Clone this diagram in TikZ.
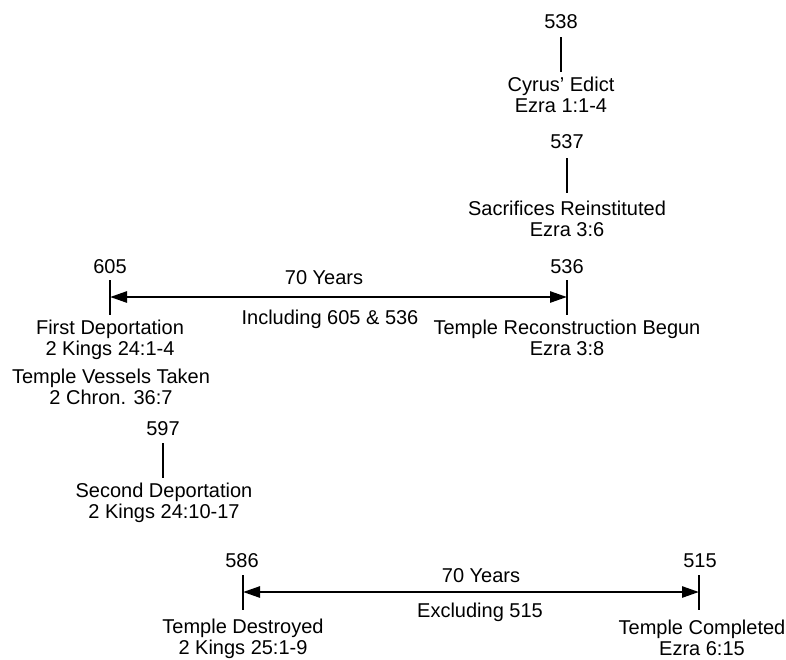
\documentclass[tikz,border=0pt]{standalone}
\usepackage{fontspec}
\setmainfont{Liberation Sans}
\usetikzlibrary{arrows.meta}

\begin{document}
\begin{tikzpicture}[x=1pt, y=-1pt, every node/.style={font=\fontsize{20}{21}\selectfont, inner sep=0pt}]
\useasboundingbox (0,0) rectangle (786,659);
\tikzstyle{yearlbl}=[anchor=base]
\tikzstyle{eventlbl}=[anchor=base, align=center]
\tikzstyle{tickln}=[line width=2.7pt]
\tikzstyle{spanarr}=[line width=2.6pt, {Triangle[length=17pt,width=11pt]}-{Triangle[length=17pt,width=11pt]}]
%%
\node (y538) at (561,28) [yearlbl] {538};
\node (y537) at (567,148) [yearlbl] {537};
\node (y605) at (110,273) [yearlbl] {605};
\node (y536) at (567,273) [yearlbl] {536};
\node (y597) at (163,435) [yearlbl] {597};
\node (y586) at (242,567) [yearlbl] {586};
\node (y515) at (700,567) [yearlbl] {515};

\coordinate (t538a) at (561,37);  \coordinate (t538b) at (561,72);
\coordinate (t537a) at (567,158); \coordinate (t537b) at (567,193);
\coordinate (t605a) at (110,280); \coordinate (t605b) at (110,315);
\coordinate (t536a) at (567,280); \coordinate (t536b) at (567,315);
\coordinate (t597a) at (163,443); \coordinate (t597b) at (163,478);
\coordinate (t586a) at (243,575); \coordinate (t586b) at (243,610);
\coordinate (t515a) at (699,575); \coordinate (t515b) at (699,610);

\draw [tickln] (t538a) -- (t538b);
\draw [tickln] (t537a) -- (t537b);
\draw [tickln] (t605a) -- (t605b);
\draw [tickln] (t536a) -- (t536b);
\draw [tickln] (t597a) -- (t597b);
\draw [tickln] (t586a) -- (t586b);
\draw [tickln] (t515a) -- (t515b);

\coordinate (a605) at (110,297);
\coordinate (a536) at (567,297);
\coordinate (a586) at (243,592);
\coordinate (a515) at (699,592);
\draw [spanarr] (a605) -- (a536);
\draw [spanarr] (a586) -- (a515);

\node (s1top) at (324,284) [yearlbl] {70 Years};
\node (s1bot) at (330,324) [yearlbl] {Including 605 \& 536};
\node (s2top) at (481,582) [yearlbl] {70 Years};
\node (s2bot) at (480,617) [yearlbl] {Excluding 515};

%% base of a two-line node is the baseline of its second line
\node (e538) at (561,112) [eventlbl] {Cyrus' Edict\\Ezra 1:1-4};
\node (e537) at (567,236) [eventlbl] {Sacrifices Reinstituted\\Ezra 3:6};
\node (e605) at (110,355) [eventlbl] {First Deportation\\2 Kings 24:1-4};
\node (e605b) at (111,404) [eventlbl] {Temple Vessels Taken\\2 Chron. 36:7};
\node (e536) at (567,355) [eventlbl] {Temple Reconstruction Begun\\Ezra 3:8};
\node (e597) at (164,518) [eventlbl] {Second Deportation\\2 Kings 24:10-17};
\node (e586) at (243,654) [eventlbl] {Temple Destroyed\\2 Kings 25:1-9};
\node (e515) at (702,655) [eventlbl] {Temple Completed\\Ezra 6:15};
\end{tikzpicture}
\end{document}
